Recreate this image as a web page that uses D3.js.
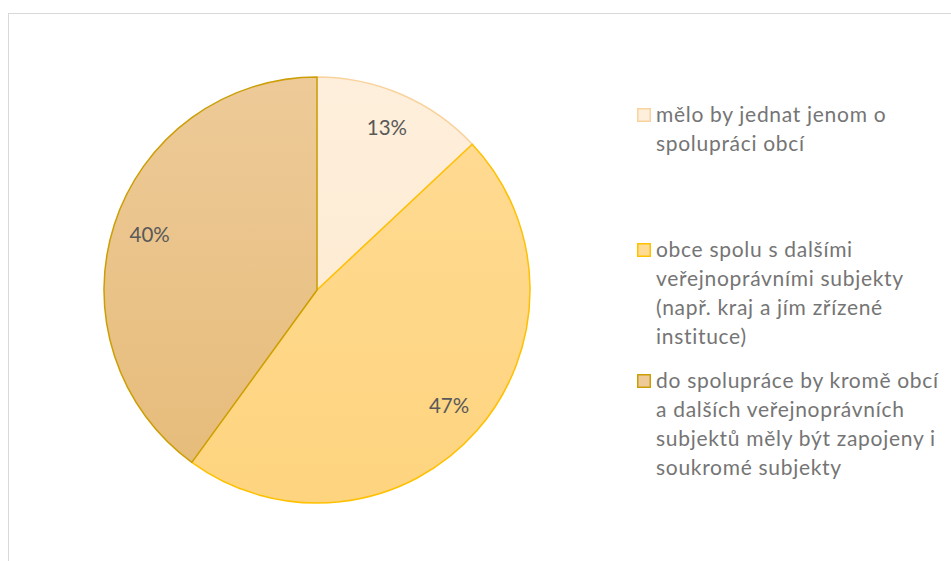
<!DOCTYPE html>
<html>
<head>
<meta charset="utf-8">
<script src="https://cdn.jsdelivr.net/npm/d3@7"></script>
<style>
  html, body { margin: 0; padding: 0; background: #fff; }
  svg { display: block; }
</style>
</head>
<body>
<svg id="chart" width="951" height="561"></svg>
<script>
// Share of answers (percent)
const categories = [
  "mělo by jednat jenom o spolupráci obcí",
  "obce spolu s dalšími veřejnoprávními subjekty (např. kraj a jím zřízené instituce)",
  "do spolupráce by kromě obcí a dalších veřejnoprávních subjektů měly být zapojeny i soukromé subjekty"
];
const values = [13, 47, 40];
// Legend text broken into lines as shown
const legendLines = [
  ["mělo by jednat jenom o", "spolupráci obcí"],
  ["obce spolu s dalšími", "veřejnoprávními subjekty", "(např. kraj a jím zřízené", "instituce)"],
  ["do spolupráce by kromě obcí", "a dalších veřejnoprávních", "subjektů měly být zapojeny i", "soukromé subjekty"]
];

const fillTop = ["#FEEFDC", "#FFDB94", "#EDCA98"];
const fillBottom = ["#FDE8CB", "#FED47F", "#E6BB78"];
const strokes = ["#F9D39E", "#FFC000", "#CC9E06"];

const svg = d3.select("#chart");
const font = "Lato, 'Open Sans', sans-serif";

// chart area frame
svg.append("rect")
  .attr("x", 8.5).attr("y", 13.5)
  .attr("width", 1000).attr("height", 1000)
  .attr("fill", "#fff").attr("stroke", "#D9D9D9").attr("stroke-width", 1);

const cx = 317, cy = 290, R = 213;

// vertical gradients in the pie group's coordinates
const defs = svg.append("defs");
values.forEach((v, i) => {
  const gr = defs.append("linearGradient")
    .attr("id", "grad" + i)
    .attr("gradientUnits", "userSpaceOnUse")
    .attr("x1", 0).attr("y1", -R).attr("x2", 0).attr("y2", R);
  gr.append("stop").attr("offset", "0%").attr("stop-color", fillTop[i]);
  gr.append("stop").attr("offset", "100%").attr("stop-color", fillBottom[i]);
});

const pie = d3.pie().sort(null).value(d => d)(values);
const arc = d3.arc().innerRadius(0).outerRadius(R);
const labelArc = d3.arc().innerRadius(176).outerRadius(176);

const g = svg.append("g").attr("transform", `translate(${cx},${cy})`);

g.selectAll("path.slice")
  .data(pie)
  .join("path")
  .attr("class", "slice")
  .attr("d", arc)
  .attr("fill", (d, i) => `url(#grad${i})`)
  .attr("stroke", (d, i) => strokes[i])
  .attr("stroke-width", 1.5)
  .attr("stroke-linejoin", "round");

g.selectAll("text.lbl")
  .data(pie)
  .join("text")
  .attr("class", "lbl")
  .attr("transform", d => `translate(${labelArc.centroid(d)})`)
  .attr("text-anchor", "middle")
  .attr("dy", "0.3em")
  .attr("font-family", font)
  .attr("font-size", 20.5)
  .attr("fill", "#595959")
  .text(d => d.data + "%");

// legend
const legendX = 637;
const legendTop = [108, 243, 374];
const lineH = 29;
const leg = svg.append("g");
legendLines.forEach((lines, i) => {
  leg.append("rect")
    .attr("x", legendX + 0.75).attr("y", legendTop[i] + 0.75)
    .attr("width", 12.5).attr("height", 12.5)
    .attr("fill", fillTop[i])
    .attr("stroke", strokes[i]).attr("stroke-width", 1.5);
  const t = leg.append("text")
    .attr("font-family", font)
    .attr("font-size", 21)
    .attr("letter-spacing", 0.7)
    .attr("fill", "#757575");
  lines.forEach((ln, j) => {
    t.append("tspan")
      .attr("x", 656)
      .attr("y", legendTop[i] + 14 + j * lineH)
      .text(ln);
  });
});
</script>
</body>
</html>
